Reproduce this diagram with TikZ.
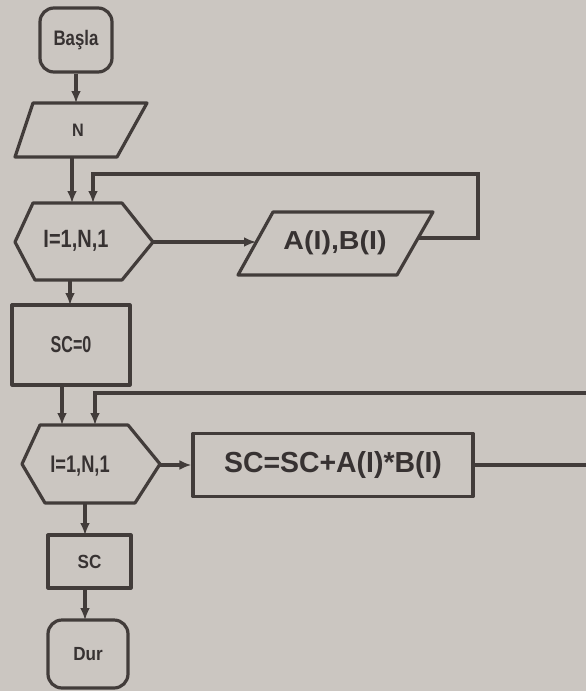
\documentclass[tikz,border=0pt]{standalone}
\usepackage{fontspec}
\setmainfont{Liberation Sans}
\usetikzlibrary{arrows.meta}
\definecolor{paper}{RGB}{203,198,193}
\definecolor{ink}{RGB}{66,60,58}
\definecolor{txt}{RGB}{55,50,50}
\tikzset{
  outl/.style={draw=ink, line width=3.2pt, line join=round},
  link/.style={draw=ink, line width=3.2pt, -{Latex[length=12pt,width=10pt]}},
  wire/.style={draw=ink, line width=3.2pt},
  lbl/.style={text=txt, inner sep=0pt},
  term/.style={outl, text=txt, rectangle, rounded corners=14pt, inner sep=0pt},
  procbox/.style={outl, text=txt, rectangle, inner sep=0pt},
}
\newcommand{\lab}[3]{{\fontsize{#1}{#1}\selectfont\bfseries\scalebox{#2}[1]{#3}}}
\begin{document}
\begin{tikzpicture}[x=1pt,y=-1pt]
\fill[paper] (0,0) rectangle (586,691);
\useasboundingbox (0,0) rectangle (586,691);

% start
\node[term, minimum width=72pt, minimum height=64pt] (start) at (76,40) {\lab{21}{0.8}{Başla}};

% input N
\draw[outl] (33,103) -- (147,103) -- (117,157) -- (15,157) -- cycle;
\node[lbl] (n) at (78,130) {\lab{18}{0.9}{N}};
\coordinate (nTop) at (76,103);
\coordinate (nBot) at (72,157);

% loop 1
\draw[outl] (33,203) -- (122,203) -- (153,242) -- (122,280) -- (35,280) -- (15,242) -- cycle;
\node[lbl] (loopA) at (76,241) {\lab{25}{0.8}{I=1,N,1}};
\coordinate (h1Top) at (72,203);
\coordinate (h1Top2) at (93,203);
\coordinate (h1Right) at (153,242);
\coordinate (h1Bot) at (70,280);

% input A(I),B(I)
\draw[outl] (273,212) -- (433,212) -- (397,275) -- (238,275) -- cycle;
\node[lbl] (ab) at (335,243) {\lab{26}{1.1}{A(I),B(I)}};
\coordinate (abL) at (256,242);
\coordinate (abR) at (419,238);
\coordinate (c1) at (478,174);

% SC=0
\node[procbox, minimum width=118pt, minimum height=80pt] (sczero) at (71,345) {\lab{23}{0.7}{SC=0}};
\coordinate (sc0Top) at (70,305);
\coordinate (sc0Bot) at (62,385);

% loop 2
\draw[outl] (40,425) -- (128,425) -- (160,464) -- (135,503) -- (45,503) -- (22,464) -- cycle;
\node[lbl] (loopB) at (80,466) {\lab{24}{0.76}{I=1,N,1}};
\coordinate (h2Top) at (62,425);
\coordinate (h2Top2) at (95,425);
\coordinate (h2Right) at (160,465);
\coordinate (h2Bot) at (85,503);
\coordinate (edgeA) at (586,393);

% calc box
\node[procbox, minimum width=280pt, minimum height=63pt] (calc) at (333,465) {\lab{29}{0.98}{SC=SC+A(I)*B(I)}};
\coordinate (edgeB) at (586,465);

% output SC
\node[procbox, minimum width=83pt, minimum height=53pt] (out) at (89.5,561.5) {\lab{19}{0.9}{SC}};
\coordinate (outTop) at (85,535);
\coordinate (outBot) at (85,588);

% end
\node[term, minimum width=80pt, minimum height=68pt] (stop) at (88,654) {\lab{19}{0.9}{Dur}};
\coordinate (stopTop) at (85,620);

% connectors
\draw[link] (start.south) -- (nTop);
\draw[link] (nBot) -- (h1Top);
\draw[link] (h1Right) -- (abL);
\draw[link] (abR) -| (c1) -| (h1Top2);
\draw[link] (h1Bot) -- (sc0Top);
\draw[link] (sc0Bot) -- (h2Top);
\draw[link] (edgeA) -| (h2Top2);
\draw[link] (h2Right) -- (calc.west);
\draw[wire] (calc.east) -- (edgeB);
\draw[link] (h2Bot) -- (outTop);
\draw[link] (outBot) -- (stopTop);
\end{tikzpicture}
\end{document}
